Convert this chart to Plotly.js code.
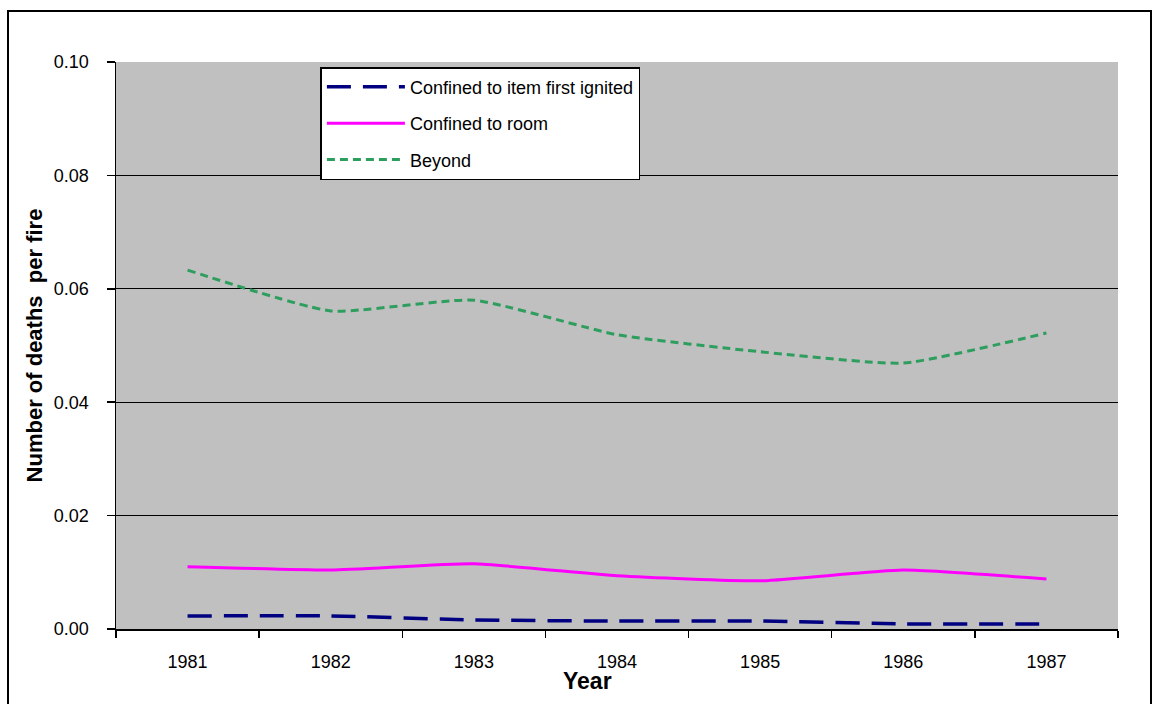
<!DOCTYPE html>
<html>
<head>
<meta charset="utf-8">
<script src="https://cdn.plot.ly/plotly-3.0.1.min.js"></script>
<style>
  html, body { margin: 0; padding: 0; background: #fff; }
  #wrap { position: relative; width: 1156px; height: 704px; }
  #chart { width: 1156px; height: 704px; }
  #frame { position: absolute; left: 7px; top: 10px; width: 1145px; height: 700px;
           border: 2px solid #000; box-sizing: border-box; pointer-events: none; }
</style>
</head>
<body>
<div id="wrap">
  <div id="chart"></div>
  <div id="frame"></div>
</div>
<script>
const years = ['1981', '1982', '1983', '1984', '1985', '1986', '1987'];
const confinedToItem = [0.0023, 0.0023, 0.0016, 0.0014, 0.0014, 0.0009, 0.0009];
const confinedToRoom = [0.0110, 0.0104, 0.0115, 0.0094, 0.0085, 0.0104, 0.0088];
const beyond = [0.0633, 0.0561, 0.0580, 0.0519, 0.0489, 0.0469, 0.0522];
const yTicks = [0, 0.02, 0.04, 0.06, 0.08, 0.10];
const yTickText = ['0.00', '0.02', '0.04', '0.06', '0.08', '0.10'];

const font = 'Arial, "Liberation Sans", sans-serif';

const traces = [
  { x: years, y: confinedToItem, name: 'Confined to item first ignited', type: 'scatter', mode: 'lines',
    legendgroup: 'a', line: { color: '#000080', width: 3.5, dash: '24px,12px', shape: 'spline', smoothing: 0.5 } },
  { x: years, y: confinedToRoom, name: 'Confined to room', type: 'scatter', mode: 'lines',
    legendgroup: 'b', line: { color: '#ff00ff', width: 3, shape: 'spline', smoothing: 0.5 } },
  { x: years, y: beyond, name: 'Beyond', type: 'scatter', mode: 'lines',
    legendgroup: 'c', line: { color: '#2e9e5e', width: 3, dash: '8px,5px', shape: 'spline', smoothing: 0.5 } }
];

const layout = {
  width: 1156, height: 704,
  margin: { l: 116, r: 38, t: 62, b: 75 },
  paper_bgcolor: 'rgba(0,0,0,0)',
  plot_bgcolor: '#c0c0c0',
  font: { family: font, size: 16, color: '#000' },
  showlegend: true,
  legend: {
    x: 0.204, y: 0.991, xanchor: 'left', yanchor: 'top',
    bgcolor: '#fff', bordercolor: '#000', borderwidth: 1.5,
    font: { family: font, size: 18, color: '#000' },
    tracegroupgap: 10, itemwidth: 78
  },
  xaxis: {
    type: 'category', range: [-0.5, 6.5],
    tickson: 'boundaries', ticks: 'outside', ticklen: 7, tickwidth: 1.5, tickcolor: '#000',
    showline: true, linecolor: '#000', linewidth: 1.5,
    showgrid: false, zeroline: false, ticklabelstandoff: 16,
    tickfont: { family: font, size: 18, color: '#000' }
  },
  yaxis: {
    range: [0, 0.1], tickvals: yTicks, ticktext: yTickText,
    ticks: 'outside', ticklen: 8, tickwidth: 1.5, tickcolor: '#000',
    showline: true, linecolor: '#000', linewidth: 1.5,
    showgrid: true, gridcolor: '#000', gridwidth: 1.2, zeroline: false, ticklabelstandoff: 14,
    tickfont: { family: font, size: 18, color: '#000' },
    title: { text: 'Number of deaths  per fire', font: { family: font, size: 22, color: '#000', weight: 'bold' }, standoff: 5 }
  },
  annotations: [
    { text: '<b>Year</b>', xref: 'paper', yref: 'paper', x: (587 - 116) / 1002, y: -(681 - 629) / 567,
      xanchor: 'center', yanchor: 'middle', showarrow: false, font: { family: font, size: 23, color: '#000' } }
  ]
};

Plotly.newPlot('chart', traces, layout, { displayModeBar: false, staticPlot: true });
</script>
</body>
</html>
